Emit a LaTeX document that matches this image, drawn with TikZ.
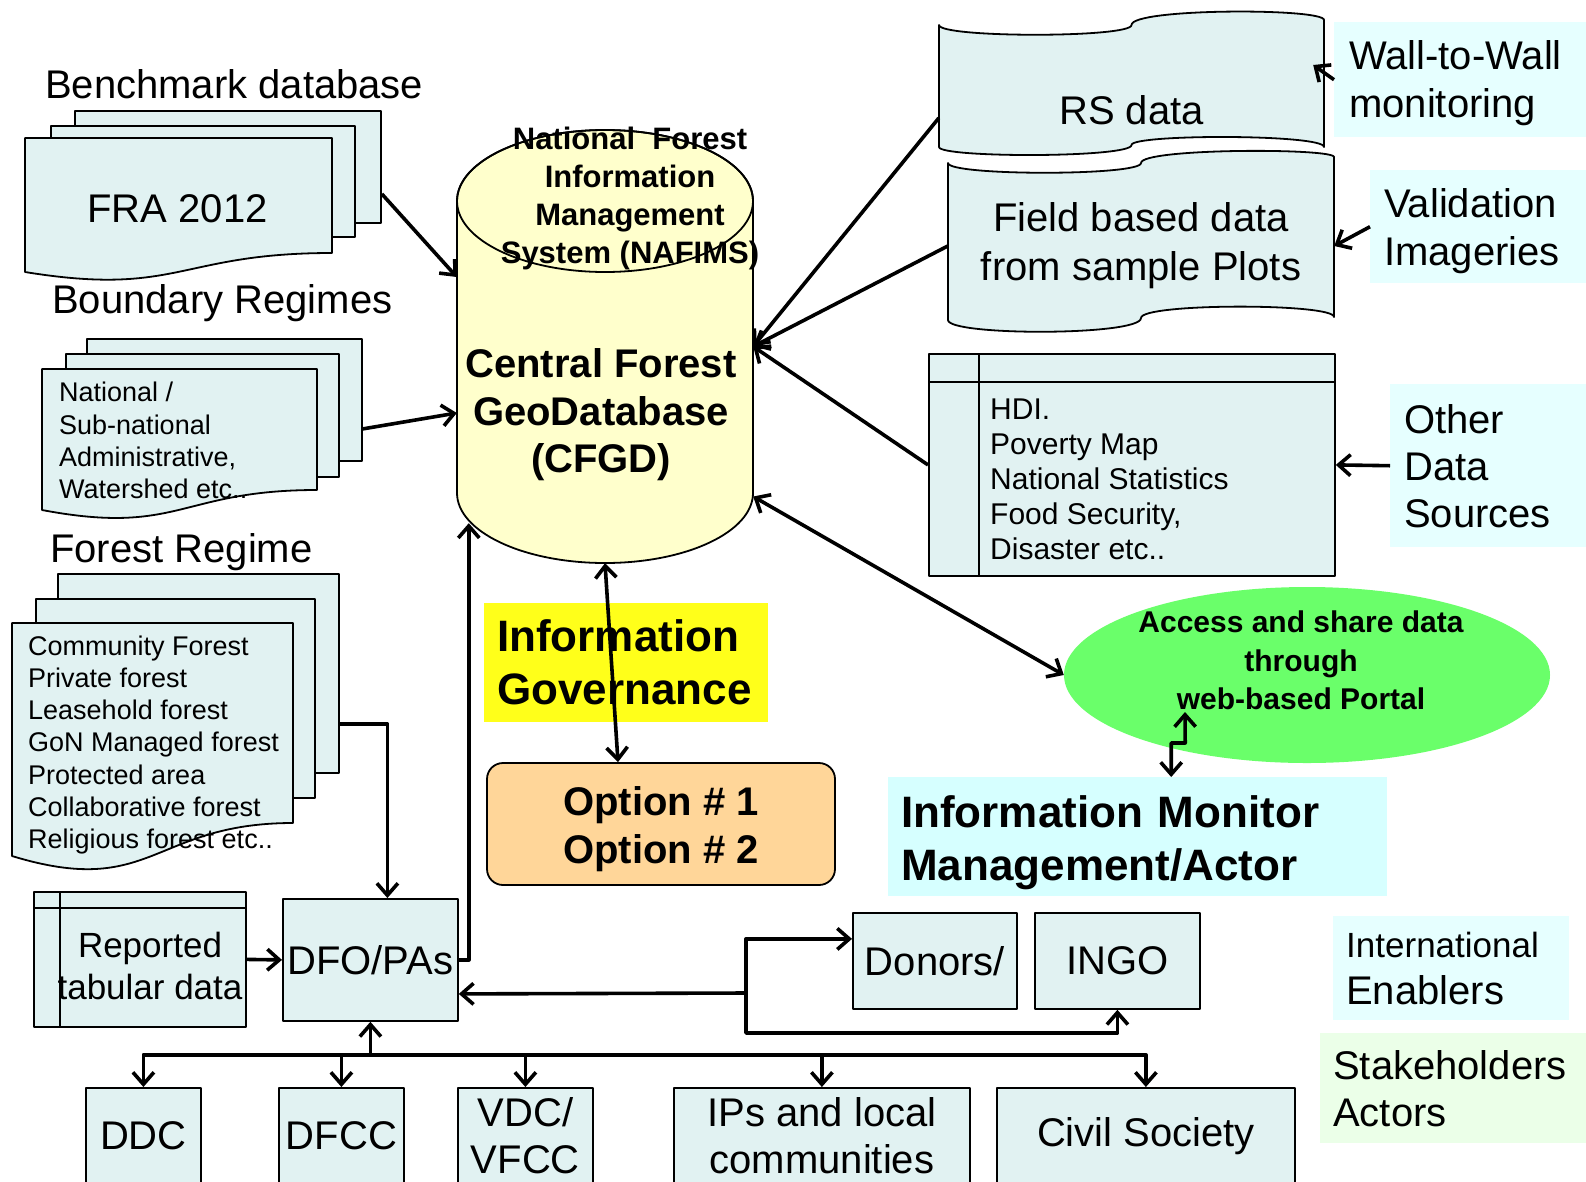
\documentclass[tikz,border=0pt]{standalone}
\usepackage{fontspec}
\setmainfont{Liberation Sans}
\usetikzlibrary{arrows.meta,shapes.geometric}
\definecolor{sheetfill}{RGB}{225,242,242}
\definecolor{cylfill}{RGB}{255,255,204}
\definecolor{govyellow}{RGB}{255,255,26}
\definecolor{optfill}{RGB}{255,214,153}
\definecolor{portalgreen}{RGB}{106,255,106}
\definecolor{monfill}{RGB}{214,255,255}
\definecolor{lblcyan}{RGB}{230,255,255}
\definecolor{lblgreen}{RGB}{235,255,232}
\begin{document}
\begin{tikzpicture}[x=1pt,y=-1pt,line join=round,
    sheet/.style={draw,fill=sheetfill,line width=1.8pt,inner sep=0pt,anchor=north west},
    lbl/.style={fill=#1,inner ysep=0pt,align=left,anchor=north west},
    bigtxt/.style={font=\fontsize{40}{47}\selectfont},
    boldtxt/.style={font=\bfseries\fontsize{40}{47.5}\selectfont},
    listtxt/.style={font=\fontsize{27}{32.3}\selectfont,align=left,inner sep=0pt,anchor=west},
    arr/.style={line width=3.6pt,-{Straight Barb[length=12pt,width=21pt]}},
    arrboth/.style={line width=3.6pt,{Straight Barb[length=12pt,width=21pt]}-{Straight Barb[length=12pt,width=21pt]}}]
  \useasboundingbox (0,0) rectangle (1586,1181);
  \fill[white] (0,0) rectangle (1586,1181);

  \node[bigtxt,anchor=base west,inner sep=0pt] (benchtitle) at (45,98) {Benchmark database};
  \node[sheet,minimum width=306pt,minimum height=112pt] (frab) at (74,110) {};
  \node[sheet,minimum width=304pt,minimum height=111pt] (fram) at (50,125) {};
  \draw[draw,fill=sheetfill,line width=1.8pt] (25,138) -- (332,138) -- (332,253) .. controls (178.5,253) and (178.5,297) .. (25,272) -- cycle;
  \node[bigtxt,anchor=base,inner sep=0pt] (fra) at (177.5,222) {FRA 2012};

  \node[bigtxt,anchor=base west,inner sep=0pt] (bndtitle) at (52,313) {Boundary Regimes};
  \node[sheet,minimum width=275pt,minimum height=122pt] (bndb) at (86,338) {};
  \node[sheet,minimum width=273pt,minimum height=123pt] (bndm) at (65,353) {};
  \draw[draw,fill=sheetfill,line width=1.8pt] (42,369) -- (317,369) -- (317,490) .. controls (179.5,490) and (179.5,536) .. (42,510) -- cycle;
  \node[listtxt] (bnd) at (59,440.5) {National /\\Sub-national\\Administrative,\\Watershed etc..};

  \node[bigtxt,anchor=base west,inner sep=0pt] (fortitle) at (50,562) {Forest Regime};
  \node[sheet,minimum width=281pt,minimum height=199pt] (forb) at (57,573) {};
  \node[sheet,minimum width=279pt,minimum height=199pt] (form) at (35,598) {};
  \draw[draw,fill=sheetfill,line width=1.8pt] (12,623) -- (293,623) -- (293,823) .. controls (152.5,823) and (152.5,899) .. (12,856) -- cycle;
  \node[listtxt] (forest) at (28,745) {Community Forest\\Private forest\\Leasehold forest\\GoN Managed forest\\Protected area\\Collaborative forest\\Religious forest etc..};

  \draw[line width=1.8pt,fill=cylfill] (457,201) -- (457,493) arc[start angle=180,end angle=360,x radius=148pt,y radius=70pt] -- (753,201) arc[start angle=0,end angle=180,x radius=148pt,y radius=71pt] -- cycle;
  \draw[line width=1.8pt] (605,201) ellipse [x radius=148pt,y radius=71pt];
  \node[minimum width=296pt,minimum height=433pt,inner sep=0pt] (cyl) at (605,346.5) {};
  \node[font=\bfseries\fontsize{31}{38}\selectfont,align=center,inner sep=0pt] (nafims) at (630,198.5) {National~~Forest\\Information\\Management\\System (NAFIMS)};
  \node[boldtxt,align=center,inner sep=0pt] (cfgd) at (601,415) {Central Forest\\GeoDatabase\\(CFGD)};

  \draw[draw,fill=sheetfill,line width=1.8pt] (939,25) .. controls (939,38) and (1131.5,38) .. (1131.5,25) .. controls (1131.5,8) and (1324,8) .. (1324,20) -- (1324,147) .. controls (1324,134) and (1131.5,134) .. (1131.5,145) .. controls (1131.5,158) and (939,158) .. (939,147) -- cycle;
  \node[bigtxt,minimum width=385pt,minimum height=130pt,inner sep=0pt] (rs) at (1131.5,110) {RS data};
  \draw[draw,fill=sheetfill,line width=1.8pt] (948,163) .. controls (948,176) and (1141,176) .. (1141,163) .. controls (1141,148) and (1334,148) .. (1334,157) -- (1334,317) .. controls (1334,303) and (1141,303) .. (1141,318) .. controls (1141,336) and (948,336) .. (948,320) -- cycle;
  \node[bigtxt,align=center,minimum width=386pt,minimum height=160pt,inner sep=0pt,font=\fontsize{40}{49}\selectfont] (field) at (1141,246) {Field based data\\from sample Plots};

  \node[sheet,minimum width=406pt,minimum height=222pt] (hdi) at (928,353) {};
  \draw[line width=1.8pt] ([yshift=-29pt]hdi.north west) -- ([yshift=-29pt]hdi.north east);
  \draw[line width=1.8pt] ([xshift=51pt]hdi.north west) -- ([xshift=51pt]hdi.south west);
  \node[listtxt,font=\fontsize{30}{35}\selectfont] (hditxt) at (990,479) {HDI.\\Poverty Map\\National Statistics\\Food Security,\\Disaster etc..};

  \node[lbl=lblcyan,font=\fontsize{40}{48}\selectfont,text width=226pt,inner xsep=15pt,minimum height=115pt] (wall) at (1334,22) {\rule{0pt}{35pt}Wall-to-Wall\\monitoring};
  \node[lbl=lblcyan,font=\fontsize{40}{48}\selectfont,text width=192pt,inner xsep=14pt,minimum height=113pt] (valid) at (1370,170) {\rule{0pt}{37pt}Validation\\Imageries};
  \node[lbl=lblcyan,bigtxt,text width=172pt,inner xsep=14pt,minimum height=163pt] (other) at (1390,384) {Other\\Data\\Sources};

  \node[lbl=govyellow,font=\bfseries\fontsize{44}{53}\selectfont,text width=258pt,inner xsep=13pt,minimum height=119pt] (gov) at (484,603) {Information\\Governance};
  \node[draw,fill=optfill,rounded corners=16pt,line width=1.8pt,boldtxt,align=center,minimum width=348pt,minimum height=122pt] (opt) at (661,824) {\rule{0pt}{39pt}Option \# 1\\Option \# 2};

  \node[ellipse,fill=portalgreen,minimum width=486pt,minimum height=176pt,inner sep=0pt] (portal) at (1307,675) {};
  \node[font=\bfseries\fontsize{30}{38.5}\selectfont,align=center,inner sep=0pt] (portaltxt) at (1301,660.5) {Access and share data\\through\\web-based Portal};
  \node[lbl=monfill,font=\bfseries\fontsize{44}{53}\selectfont,text width=473pt,inner xsep=13pt,minimum height=119pt] (mon) at (888,777) {\rule{0pt}{44pt}Information Monitor\\Management/Actor};

  \node[sheet,minimum width=212pt,minimum height=135pt] (rep) at (33,891) {};
  \draw[line width=1.8pt] ([yshift=-17pt]rep.north west) -- ([yshift=-17pt]rep.north east);
  \draw[line width=1.8pt] ([xshift=27pt]rep.north west) -- ([xshift=27pt]rep.south west);
  \node[font=\fontsize{35}{42}\selectfont,align=center,inner sep=0pt] (reptxt) at (150,966) {Reported\\tabular data};
  \node[sheet,bigtxt,minimum width=175pt,minimum height=122pt] (dfo) at (282,898) {DFO/PAs};
  \node[sheet,bigtxt,minimum width=164pt,minimum height=96pt] (donors) at (852,912) {Donors/};
  \node[sheet,bigtxt,minimum width=165pt,minimum height=96pt] (ingo) at (1034,912) {INGO};
  \node[lbl=lblcyan,bigtxt,text width=210pt,inner xsep=13pt,minimum height=104pt] (intl) at (1333,916) {{\fontsize{35}{47}\selectfont International}\\Enablers};
  \node[lbl=lblgreen,bigtxt,text width=244pt,inner xsep=13pt,minimum height=110pt] (stake) at (1320,1033) {Stakeholders\\Actors};

  \node[sheet,bigtxt,minimum width=115pt,minimum height=96pt] (ddc) at (85,1087) {DDC};
  \node[sheet,bigtxt,minimum width=125pt,minimum height=96pt] (dfcc) at (278,1087) {DFCC};
  \node[sheet,bigtxt,align=center,minimum width=135pt,minimum height=96pt] (vdc) at (457,1087) {VDC/\\VFCC};
  \node[sheet,bigtxt,align=center,minimum width=296pt,minimum height=96pt] (ips) at (673,1087) {IPs and local\\communities};
  \node[sheet,bigtxt,minimum width=298pt,minimum height=96pt] (civil) at (996,1087) {Civil Society};

  \draw[arr] ([yshift=-27pt]frab.east) -- ([yshift=69.5pt]cyl.west);
  \draw[arr] ([yshift=-29pt]bndb.east) -- ([yshift=-66.5pt]cyl.west);
  \draw[arr] ([yshift=-50.5pt]forb.east) -| ([xshift=17pt]dfo.north);
  \draw[arr] ([yshift=-8pt]rs.west) -- (cyl.east);
  \draw[arr] (field.west) -- (cyl.east);
  \draw[arr] (hdi.west) -- (cyl.east);
  \draw[arr] (wall.west) -- ([xshift=-11pt,yshift=45pt]rs.east);
  \draw[arr] (valid.west) -- (field.east);
  \draw[arr] (other.west) -- (hdi.east);
  \draw[arrboth] ([yshift=-150pt]cyl.east) -- (portal.west);
  \draw[arrboth] (cyl.south) -- ([xshift=-43pt]opt.north);
  \draw[arrboth] ([xshift=33.5pt]mon.north) -- ++(0,-34) -- ++(14,0) -- ([xshift=-122pt,yshift=-37pt]portal.center);

  \draw[arr] (rep.east) -- (dfo.west);
  \draw[arr] (dfo.east) -| ([xshift=12pt,yshift=40pt]cyl.south west);
  \coordinate (hub) at (746,993);
  \draw[arr] (hub) -- ([yshift=-34pt]dfo.east);
  \draw[arr] (hub) |- ([yshift=22pt]donors.west);
  \draw[arr] (hub) -- ++(0,40) -| (ingo.south);
  \coordinate (bus) at ([yshift=-33pt]dfo.south);
  \draw[arr] (bus) -- (dfo.south);
  \draw[arr] (bus) -| (ddc.north);
  \draw[arr] (bus) -| (dfcc.north);
  \draw[arr] (bus) -| (vdc.north);
  \draw[arr] (bus) -| (ips.north);
  \draw[arr] (bus) -| (civil.north);
\end{tikzpicture}
\end{document}
